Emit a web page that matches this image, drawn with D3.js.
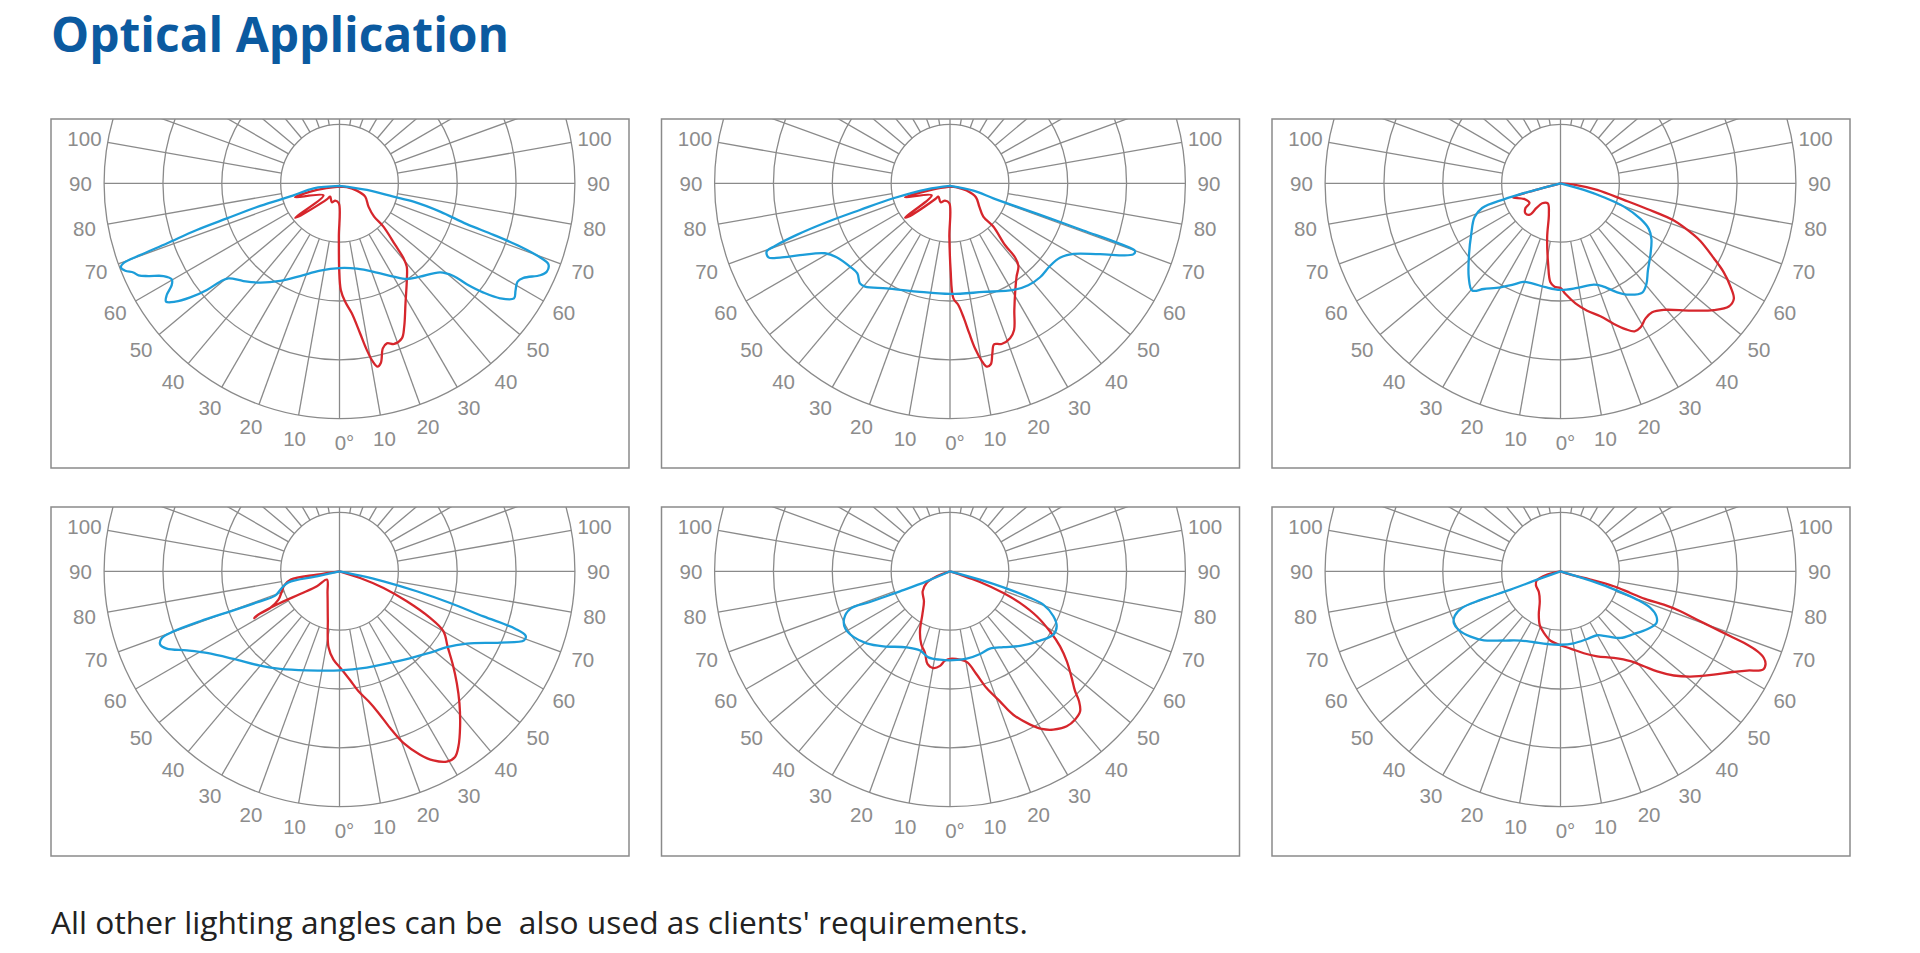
<!DOCTYPE html>
<html><head><meta charset="utf-8">
<script src="https://cdn.jsdelivr.net/npm/d3@7"></script>
<style>html,body{margin:0;padding:0;background:#fff;}svg{display:block}</style>
</head><body>
<svg id="chart" width="1920" height="953"></svg>
<script>
const titleText = "Optical Application";
const noteText = "All other lighting angles can be  also used as clients' requirements.";
const angleTicks = [0,10,20,30,40,50,60,70,80,90,100];
const ringValues = [25,50,75,100];
const spokeAngles = d3.range(0,360,10);

// [angle in degrees (0 = straight down, + = right side), relative intensity (outer ring = 100)]
const p1Blue = [[0,1.1],[-79.1,11.2],[-75.2,20.5],[-74.1,35.0],[-72.7,50.1],[-71.9,63.8],[-70.8,77.7],[-70.2,90.0],[-69.7,97.9],[-69.0,99.5],[-67.8,98.3],[-66.6,95.4],[-65.4,93.9],[-64.1,90.2],[-62.2,84.5],[-60.2,82.1],[-58.8,83.3],[-57.1,87.4],[-55.7,89.2],[-54.2,86.0],[-52.6,79.8],[-51.2,72.3],[-50.5,65.7],[-49.4,62.1],[-44.5,58.2],[-38.6,54.0],[-31.3,48.5],[-23.0,42.8],[-12.5,38.0],[0,36.0],[11.5,37.0],[22.7,41.1],[30.0,45.8],[35.1,49.7],[40.8,52.4],[48.5,57.1],[50.9,62.4],[51.6,69.0],[52.8,76.8],[54.4,83.9],[56.6,88.8],[58.6,87.6],[61.1,86.4],[62.8,87.9],[65.4,93.8],[66.9,95.7],[68.8,95.2],[69.6,91.7],[70.7,81.3],[71.5,69.0],[72.2,56.8],[74.3,44.4],[76.1,32.4],[76.1,23.6],[76.3,12.0],[0,1.1]];
const p1Red = [[0,1.4],[-73.6,10.0],[-72.5,19.8],[-53.1,8.5],[-52.2,23.8],[-50.9,22.4],[-38.4,8.7],[-35,6.9],[-22,8.7],[-14,7.6],[-1.9,8.5],[-0.7,22.7],[-0.2,36.8],[0.7,45.3],[2.7,50.3],[5.4,55.5],[7.8,64.3],[9.3,71.7],[10.6,77.1],[11.7,79.5],[13.0,78.2],[14.7,72.5],[16.5,70.9],[18.8,72.1],[21.9,71.0],[24.3,66.8],[28.8,58.2],[34.9,50.0],[38.9,45.5],[40.5,41.9],[42.1,35.3],[45.4,26.2],[46.1,20.4],[51.2,15.8],[62.5,12.3],[67.1,8.0],[61.4,3.5],[0,1.4]];
const p2Blue = [[0,1.1],[-75.6,10.2],[-75.2,24.9],[-73.5,39.9],[-72.5,55.0],[-71.4,68.7],[-70.3,79.0],[-69.6,83.1],[-67.8,83.3],[-66.4,78.8],[-64.4,70.7],[-60.8,60.9],[-56.9,57.5],[-50.2,55.3],[-45.8,54.9],[-42.0,57.2],[-39.4,56.8],[-31.1,52.1],[-17.1,48.1],[0,47.0],[17.1,48.3],[30.7,52.7],[37.5,54.6],[43.8,55.3],[50.4,55.1],[55.9,56.4],[60.2,60.4],[64.7,70.5],[68.8,83.5],[69.9,83.7],[70.4,76.7],[70.5,60.1],[70.7,45.0],[70.7,30.0],[70.9,19.5],[72.6,10.4],[0,1.1]];
const p2Red = [[0,1.4],[-70.2,7.5],[-72.7,20.0],[-56.8,9.3],[-52.7,24.0],[-51.3,22.7],[-43.2,9.3],[-41.2,7.5],[-26.2,9.0],[-16.1,7.7],[-1.9,8.5],[-0.7,22.7],[0.4,36.8],[1.7,48.9],[3.9,51.8],[5.9,57.7],[7.3,64.2],[8.6,70.9],[10.1,76.5],[11.3,79.4],[12.7,78.8],[14.0,74.4],[15.3,70.9],[17.8,71.7],[21.2,70.6],[23.6,68.0],[26.9,60.4],[31.5,53.1],[35.5,48.7],[39.6,45.6],[41.3,41.8],[41.7,35.1],[45,26.0],[45,20.0],[51.5,15.9],[61.7,12.5],[66.3,7.7],[59,3.3],[0,1.4]];
const p3Blue = [[0,0],[-75.1,13.2],[-74.2,25.0],[-72.5,34.9],[-68.4,39.3],[-60.4,43.6],[-52.3,49.1],[-44.3,55.8],[-39.5,59.0],[-36.0,55.5],[-30.0,51.0],[-25.4,47.8],[-20.7,44.8],[-15.8,44.2],[-8.2,44.6],[0,45.3],[9.0,45.0],[18.2,45.3],[22.1,47.1],[27.5,52.2],[31.5,55.5],[36.8,58.0],[40.5,56.2],[45,52.5],[51.9,48.6],[58.5,45.3],[62.7,42.2],[66.0,37.2],[69.8,28.7],[72.1,19.3],[74.1,10.3],[0,0]];
const p3Red = [[0,0],[-74.8,10.3],[-73.5,21.0],[-66.9,16.9],[-57.6,15.6],[-54.8,18.2],[-49.4,19.6],[-44.4,18.6],[-44.2,14.6],[-42.5,11.5],[-32.3,10.1],[-20.8,13.9],[-13.9,23.6],[-8.7,34.7],[-5.8,42.3],[-3.3,44.0],[0,44.5],[2.6,47.1],[7.1,51.4],[11.8,55.3],[16.7,59.0],[20.8,63.9],[24.0,67.8],[26.6,70.3],[29.1,70.0],[32.2,67.8],[35.4,67.2],[39.2,69.4],[45.6,77.3],[50.4,84.5],[53.8,88.6],[56.3,88.5],[58.7,84.5],[61.4,79.0],[64.0,72.4],[67.5,64.4],[68.8,60.7],[71.8,50.7],[73.5,38.4],[75.3,27.8],[79.7,15.8],[84.3,5.7],[0,0]];
const p4Blue = [[0,0],[-77.6,9.9],[-77.8,22.2],[-73.9,25.5],[-69.3,29.2],[-69.4,37.5],[-69.8,48.0],[-70.3,62.9],[-70.1,75.0],[-69.4,80.6],[-67.8,82.3],[-65.9,80.4],[-62.6,73.0],[-58.4,66.2],[-50.4,58.4],[-40.1,52.4],[-31.3,48.5],[-18.3,44.3],[0,42.1],[15.8,42.5],[30.7,44.9],[42.3,48.8],[49.5,52.5],[54.8,55.8],[60.4,62.2],[66.1,74.7],[69.5,83.7],[70.9,83.7],[71.9,78.5],[72.6,64.1],[74.0,48.9],[75.5,33.9],[77.2,19.2],[78.2,9.0],[0,0]];
const p4Red = [[0,0],[-81.6,9.7],[-80.3,21.0],[-75.5,24.3],[-70.9,25.9],[-65.1,28.6],[-62.1,33.3],[-61.9,38.2],[-61.3,41.3],[-61.9,39.0],[-62,30.1],[-60,19.3],[-56.5,11.5],[-56.7,6.4],[-29,10.5],[-13.6,21.1],[-8.3,32.5],[-3.9,37.6],[1.4,41.8],[5.6,46.5],[9.0,51.6],[12.6,56.6],[15.4,62.4],[17.9,70.0],[20.4,77.8],[23.7,85.1],[26.4,89.7],[29.4,92.8],[31.9,92.9],[34.2,89.9],[37.9,83.4],[42.3,75.7],[46.4,68.8],[50.5,62.4],[55.2,55.9],[60,51.0],[62.8,43.3],[66,31.3],[69.3,20.0],[72.1,9.2],[0,0]];
const p5Blue = [[0,0],[-66.8,10.8],[-68.2,22.9],[-69.0,36.4],[-69.4,45.1],[-65.9,49.3],[-61.3,50.7],[-55.8,49.6],[-49.2,46.8],[-41.6,42.6],[-29.7,37.2],[-20.7,36.0],[-14.1,37.7],[-6.5,37.8],[2.1,37.8],[10.8,37.8],[20.0,37.4],[27.3,37.0],[35.1,39.4],[43.2,43.5],[52.4,48.3],[58.5,51.5],[62.7,51.0],[66.5,47.9],[70.3,42.1],[71.9,34.3],[73.3,23.7],[74.5,13.2],[0,0]];
const p5Red = [[0,0],[-69.4,6.0],[-63.4,11.1],[-53.8,14.4],[-40.9,16.9],[-32.6,21.8],[-26.6,28.5],[-21.4,33.4],[-17.0,36.3],[-13.7,40.5],[-9.8,41.7],[-6.0,40.4],[-3.2,38.0],[1.1,37.1],[6.5,37.8],[10.8,39.4],[14.5,45.3],[17.4,52.0],[21.0,59.2],[23.8,66.6],[27.6,73.5],[30.2,77.5],[33.1,80.3],[37.0,82.4],[40.1,82.4],[42.9,81.2],[44.8,77.8],[46.3,73.4],[48.8,68.7],[52.4,62.6],[55.7,56.6],[59.0,49.5],[62.6,41.5],[65.7,32.6],[67.9,24.5],[70.4,13.5],[71.6,4.5],[0,0]];
const p6Blue = [[0,0],[-70.3,10.5],[-69.9,22.6],[-70.3,36.1],[-69.6,44.6],[-67.2,48.7],[-64.0,50.4],[-60.0,49.9],[-54.0,47.2],[-48.0,43.8],[-39.3,38.0],[-30.0,34.0],[-20.6,32.2],[-10.4,31.4],[0,31.2],[10.5,31.1],[21.5,30.9],[29.8,31.3],[35.7,34.0],[42.0,38.1],[49.5,41.0],[56.2,44.3],[61.7,46.3],[64.9,45.0],[67.8,41.3],[69.7,34.7],[71.2,25.4],[72.7,13.4],[0,0]];
const p6Red = [[0,0],[-76,5.8],[-68.7,10.9],[-60.4,12.0],[-46.4,12.7],[-34.6,15.5],[-26.6,20.6],[-20.9,24.6],[-15.1,27.1],[-8.2,29.8],[0,31.4],[7.4,33.1],[15.9,36.2],[23.3,39.3],[31.6,43.2],[37.9,48.4],[41.3,53.7],[44.0,59.1],[47.4,65.4],[51.0,71.1],[56.0,78.5],[59.3,84.0],[62.0,89.8],[64.1,95.6],[65.7,95.6],[66.9,93.9],[67.9,90.2],[68.7,83.6],[69.1,77.3],[69.7,69.4],[70.5,61.6],[71.6,53.7],[72.1,46.1],[71.9,38.7],[72.8,31.1],[74.3,23.5],[74.5,13.2],[71.6,4.5],[0,0]];

const panels = [
  {red: p1Red, blue: p1Blue}, {red: p2Red, blue: p2Blue}, {red: p3Red, blue: p3Blue},
  {red: p4Red, blue: p4Blue}, {red: p5Red, blue: p5Blue}, {red: p6Red, blue: p6Blue}
];

const colX = [51, 661.5, 1272], rowY = [119, 507];
const panelW = 578, panelH = 349, cxOff = 288.5, cyOff = 64.3;
const gridColor = "#8a8a8a", labelColor = "#8c8c8c";
const redColor = "#d6262c", blueColor = "#1c9dd9";

const r = d3.scaleLinear().domain([0, 100]).range([0, 235.4]);
const rad = d => d * Math.PI / 180;

const svg = d3.select("#chart");
svg.append("rect").attr("width",1920).attr("height",953).attr("fill","#fff");

// title fitted to the reference width with tight letter spacing
const title = svg.append("text").attr("x",51).attr("y",52).text(titleText)
  .attr("font-family","'Open Sans','Noto Sans',sans-serif").attr("font-weight",700)
  .attr("font-size",48).attr("fill","#0b5aa0");
let tw = title.node().getComputedTextLength();
if (tw > 0) {
  let ls = (458 - tw) / titleText.length;
  if (ls < -2.2) {
    const fs = 48 * (458 + 2.2 * titleText.length) / tw;
    title.attr("font-size", fs);
    ls = -2.2;
  }
  title.attr("letter-spacing", ls);
}

const note = svg.append("text").attr("x",51).attr("y",934).text(noteText)
  .style("white-space","pre")
  .attr("font-family","'Open Sans','Noto Sans',sans-serif")
  .attr("font-size",30).attr("fill","#222");
const nl = note.node().getComputedTextLength();
if (nl > 0) note.attr("font-size", Math.max(26, Math.min(33, 30 * 977 / nl)));

const line = d3.lineRadial()
  .angle(d => Math.PI - rad(d[0]))
  .radius(d => r(d[1]))
  .curve(d3.curveCatmullRom.alpha(0.5));

panels.forEach((p, i) => {
  const col = i % 3, row = Math.floor(i / 3);
  const g = svg.append("g").attr("transform", `translate(${colX[col]},${rowY[row]})`);
  const clipId = "clip" + i;
  g.append("clipPath").attr("id", clipId).append("rect").attr("width", panelW).attr("height", panelH);
  const plot = g.append("g").attr("clip-path", `url(#${clipId})`)
    .append("g").attr("transform", `translate(${cxOff},${cyOff})`);

  plot.selectAll("circle.ring").data(ringValues).join("circle").attr("class","ring")
    .attr("r", d => r(d)).attr("fill","none").attr("stroke",gridColor).attr("stroke-width",1.3);

  plot.selectAll("line.spoke").data(spokeAngles).join("line").attr("class","spoke")
    .attr("x1", d => Math.sin(rad(d)) * (d % 90 === 0 ? 0 : r(25)))
    .attr("y1", d => Math.cos(rad(d)) * (d % 90 === 0 ? 0 : r(25)))
    .attr("x2", d => Math.sin(rad(d)) * r(100))
    .attr("y2", d => Math.cos(rad(d)) * r(100))
    .attr("stroke",gridColor).attr("stroke-width",1.3);

  const labs = [];
  angleTicks.forEach(t => {
    if (t === 0) labs.push({a:0, t:"0°", dx:5});
    else { labs.push({a:-t, t:String(t), dx:0}); labs.push({a:t, t:String(t), dx:0}); }
  });
  const lr = 259;
  plot.selectAll("text.lab").data(labs).join("text").attr("class","lab")
    .attr("x", d => Math.sin(rad(d.a)) * lr + d.dx)
    .attr("y", d => Math.cos(rad(d.a)) * lr)
    .attr("text-anchor","middle").attr("dominant-baseline","central")
    .attr("font-family","'Liberation Sans',Arial,sans-serif").attr("font-size",20.5)
    .attr("fill",labelColor).text(d => d.t);

  plot.append("path").datum(p.red).attr("d", line).attr("fill","none")
    .attr("stroke",redColor).attr("stroke-width",2.3).attr("stroke-linejoin","round");
  plot.append("path").datum(p.blue).attr("d", line).attr("fill","none")
    .attr("stroke",blueColor).attr("stroke-width",2.3).attr("stroke-linejoin","round");

  g.append("rect").attr("x",0).attr("y",0).attr("width",panelW).attr("height",panelH)
    .attr("fill","none").attr("stroke","#8a8a8a").attr("stroke-width",1.5);
});
</script>
</body></html>
